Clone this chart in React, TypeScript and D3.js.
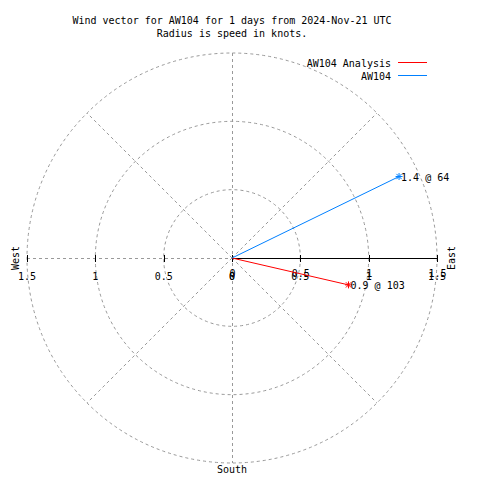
import React from "react";
import * as d3 from "d3";

const titleLines = ["Wind vector for AW104 for 1 days from 2024-Nov-21 UTC", "Radius is speed in knots."];
const seriesNames = ["AW104 Analysis", "AW104"];
const seriesColors = ["#ff0000", "#0080ff"];
const speeds = [0.875, 1.36];
const directions = [103, 64];
const radialTicks = [0, 0.5, 1, 1.5];
const gridRadii = [0.5, 1, 1.5];
const spokeAngles = [45, 135, 225, 315];
const compass = ["West", "East", "South"];

const W = 480, H = 480;
const cx = 232, cy = 258;
const R = 205;
const FONT = "'DejaVu Sans Mono', monospace";
const GRID = "#999999";
const DASH = "3,3";

export default function App() {
  const r = d3.scaleLinear().domain([0, 1.5]).range([0, R]);
  const pt = (speed: number, deg: number) => {
    const a = (deg * Math.PI) / 180;
    return [cx + r(speed) * Math.sin(a), cy - r(speed) * Math.cos(a)];
  };
  const lineGen = d3.line();

  return (
    <svg width={W} height={H} style={{ position: "absolute", left: 0, top: 0, background: "#fff" }}
      fontFamily={FONT} fontSize={10}>
      <rect width={W} height={H} fill="#fff" />
      {gridRadii.map((g) => (
        <circle key={g} cx={cx} cy={cy} r={r(g)} fill="none" stroke={GRID} strokeDasharray={DASH} />
      ))}
      {spokeAngles.map((a) => {
        const [x, y] = pt(1.5, a);
        return <path key={a} d={lineGen([[cx, cy], [x, y]]) || ""} stroke={GRID} strokeDasharray={DASH} fill="none" />;
      })}
      <line x1={cx + 0.5} x2={cx + 0.5} y1={cy - R} y2={cy + R} stroke={GRID} strokeDasharray={DASH} shapeRendering="crispEdges" />
      <line x1={cx - R} x2={cx} y1={cy + 0.5} y2={cy + 0.5} stroke={GRID} strokeDasharray={DASH} shapeRendering="crispEdges" />
      <line x1={cx} x2={cx + R} y1={cy + 0.5} y2={cy + 0.5} stroke="#000" shapeRendering="crispEdges" />
      {radialTicks.map((t) => (
        <g key={"t" + t}>
          <line x1={Math.round(cx + r(t)) + 0.5} x2={Math.round(cx + r(t)) + 0.5} y1={cy - 3} y2={cy + 4} stroke="#000" shapeRendering="crispEdges" />
          <line x1={Math.round(cx - r(t)) + 0.5} x2={Math.round(cx - r(t)) + 0.5} y1={cy - 3} y2={cy + 4} stroke="#000" shapeRendering="crispEdges" />
          <text x={cx - r(t)} y={280} textAnchor="middle">{String(t)}</text>
          <text x={cx + r(t)} y={280} textAnchor="middle">{String(t)}</text>
          <text x={cx + r(t) + 0.5} y={277} textAnchor="middle">{String(t)}</text>
        </g>
      ))}
      <text transform={`translate(19,${cy}) rotate(-90)`} textAnchor="middle">{compass[0]}</text>
      <text transform={`translate(455,${cy}) rotate(-90)`} textAnchor="middle">{compass[1]}</text>
      <text x={cx} y={473} textAnchor="middle">{compass[2]}</text>
      {speeds.map((s, i) => {
        const [x, y] = pt(s, directions[i]);
        const c = seriesColors[i];
        const k = 3.5;
        return (
          <g key={"v" + i}>
            <path d={lineGen([[cx, cy], [x, y]]) || ""} stroke={c} fill="none" />
            <path d={`M${x - k},${y}H${x + k}M${x},${y - k}V${y + k}M${x - k * 0.75},${y - k * 0.75}L${x + k * 0.75},${y + k * 0.75}M${x - k * 0.75},${y + k * 0.75}L${x + k * 0.75},${y - k * 0.75}`} stroke={c} fill="none" />
            <text x={x + 2} y={y + 4}>{`${s.toFixed(1)} @ ${directions[i]}`}</text>
          </g>
        );
      })}
      {titleLines.map((t, i) => (
        <text key={t} x={cx} y={24 + i * 13} textAnchor="middle">{t}</text>
      ))}
      {seriesNames.map((n, i) => (
        <g key={n}>
          <text x={391} y={67 + i * 13} textAnchor="end">{n}</text>
          <line x1={398} x2={427} y1={62.5 + i * 13} y2={62.5 + i * 13} stroke={seriesColors[i]} shapeRendering="crispEdges" />
        </g>
      ))}
    </svg>
  );
}
